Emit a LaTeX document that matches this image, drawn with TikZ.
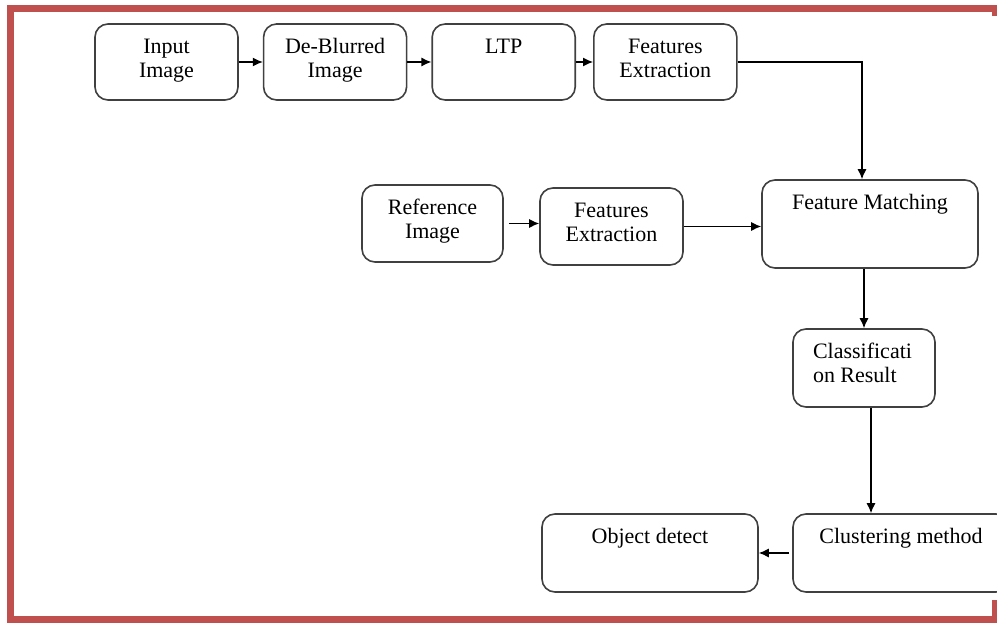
\documentclass[tikz,border=0pt]{standalone}
\usepackage{fontspec}
\setmainfont{Liberation Serif}
\usepackage{xcolor}
\usepackage{tikz}
\usetikzlibrary{arrows.meta,positioning}
\definecolor{framered}{RGB}{192,80,77}
\definecolor{boxline}{RGB}{64,64,64}
\newcommand{\toptext}[4][\centering]{\parbox[c][#3][t]{#2}{#1\rule{0pt}{15pt}#4}}

\begin{document}
\begin{tikzpicture}[
    x=0.5pt, y=-0.5pt,
    node distance=12pt,
    stepbox/.style={rectangle, draw=boxline, line width=0.8pt, rounded corners=6.5pt, inner sep=0pt, font={\fontsize{11}{11.6}\selectfont}},
    flow/.style={draw, line width=0.6pt, -{Latex[length=5pt,width=4.5pt]}}
]
\useasboundingbox (0,0) rectangle (997,624);
\clip (0,0) rectangle (997,624);
% frame
\draw[framered, line width=3.5pt] (995,16) -- (995,9) -- (10,9) -- (10,620) -- (995,620) -- (995,600);

% top row
\node[stepbox] (inp) at (166.5,62) {\toptext{71.5pt}{38pt}{Input\\Image}};
\node[stepbox, right=of inp] (deb) {\toptext{71.5pt}{38pt}{De-Blurred\\Image}};
\node[stepbox, right=of deb] (ltp) {\toptext{71.5pt}{38pt}{LTP}};
\node[stepbox, right=8.5pt of ltp] (fex) {\toptext{71.5pt}{38pt}{Features\\Extraction}};

% reference branch
\node[stepbox] (ref) at (432.5,223.5) {\toptext{70.5pt}{38.5pt}{Reference\\Image}};
\node[stepbox] (fexr) at (611.5,226.5) {\toptext{71.5pt}{38.5pt}{Features\\Extraction}};
\node[stepbox] (fm) at (870,224) {\toptext{108pt}{44pt}{Feature Matching}};

% lower part
\node[stepbox] (cls) at (864,368) {\toptext[\raggedright\leftskip=10pt]{71pt}{39pt}{Classificati\\on Result}};
\node[stepbox] (obj) at (650,553) {\toptext{108pt}{39pt}{Object detect}};
\node[stepbox] (clu) at (901,553) {\toptext{108pt}{39pt}{Clustering method}};

% connectors
\draw[flow] (inp) -- (deb);
\draw[flow] (deb) -- (ltp);
\draw[flow] (ltp) -- (fex);
\draw[flow] (fex.east) -| ([xshift=-4pt]fm.north);
\draw[flow] ([xshift=2.5pt]ref.east) -- (ref.east -| fexr.west);
\draw[flow] (fexr.east) -- (fexr.east -| fm.west);
\draw[flow] (fm.south -| cls.north) -- (cls.north);
\draw[flow] ([xshift=3.5pt]cls.south) -- ([xshift=3.5pt]cls.south |- clu.north);
\draw[flow] ([xshift=-1.5pt]clu.west) -- (clu.west -| obj.east);
\end{tikzpicture}
\end{document}
